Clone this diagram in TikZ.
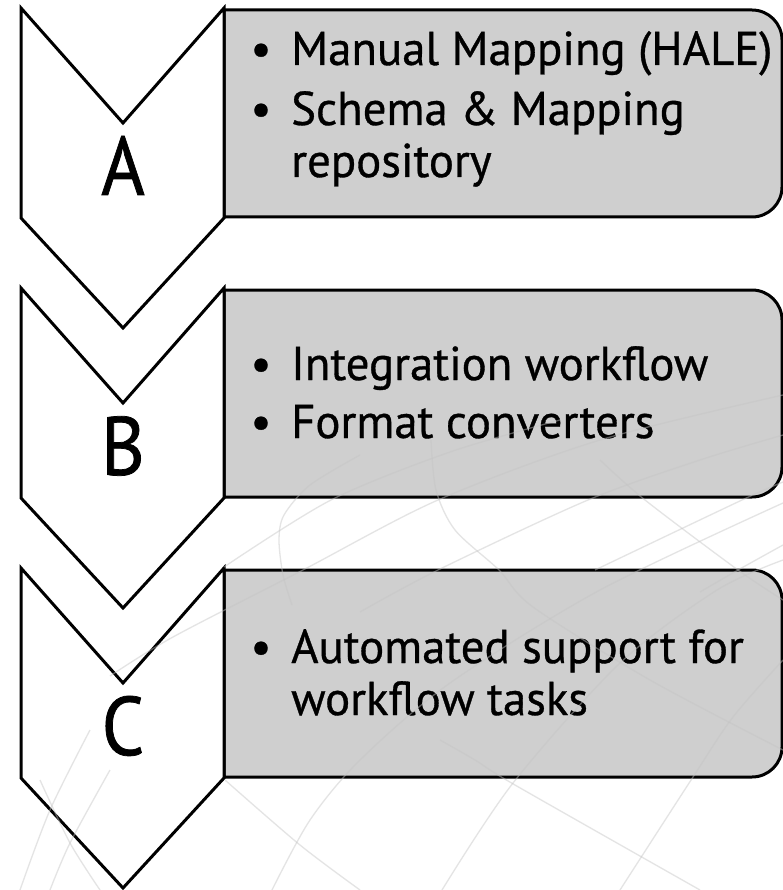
\documentclass[tikz,border=0pt]{standalone}
\usepackage{fontspec}
\setmainfont{PT Sans}[FakeBold=0.7,FakeStretch=0.985]
\newfontfamily\letterfont{PT Sans}[FakeStretch=0.9,FakeBold=0.9]
\definecolor{boxgray}{RGB}{207,207,207}
\definecolor{gridgray}{RGB}{196,196,196}
\begin{document}
\begin{tikzpicture}[x=1pt,y=-1pt,
  chev/.style={draw=black,line width=3pt,fill=white,line join=miter},
  bluebox/.style={draw=black,line width=3pt,fill=boxgray,line join=miter},
  letter/.style={font=\letterfont\fontsize{83}{83}\selectfont,inner sep=0pt,anchor=base},
  item/.style={font=\fontsize{47.5}{52}\selectfont,inner sep=0pt,anchor=base west},
  bul/.style={font=\fontsize{47.5}{52}\selectfont,inner sep=0pt,anchor=base},
  grid/.style={draw=gridgray,line width=1.3pt,opacity=0.45}]
\useasboundingbox (0,0) rectangle (783,890);
\fill[white] (0,0) rectangle (783,890);
% boxes and chevrons
\foreach \t in {8,288,568}{
  \path[bluebox] (224,\t+2) -- (752,\t+2) arc[start angle=-90,end angle=0,radius=30]
     -- (782,\t+179) arc[start angle=0,end angle=90,radius=30] -- (224,\t+209) -- cycle;
  \path[chev] (21,\t) -- (123,\t+115) -- (224,\t) -- (224,\t+210) -- (123,\t+320) -- (21,\t+210) -- cycle;
}
% letters
\node[letter] (la) at (123,195) {A};
\node[letter] (lb) at (123,475) {B};
\node[letter] (lc) at (123,755) {C};
% box A
\node[bul] (ba1) at (261,65) {•};
\node[item] (ta1) at (291,65) {Manual Mapping (HALE)};
\node[bul] (ba2) at (261,125) {•};
\node[item] (ta2) at (291,125) {Schema \& Mapping};
\node[item] (ta3) at (291,177) {repository};
% box B
\node[bul] (bb1) at (261,380) {•};
\node[item] (tb1) at (291,380) {Integration workflow};
\node[bul] (bb2) at (261,438) {•};
\node[item] (tb2) at (291,438) {Format converters};
% box C
\node[bul] (bc1) at (261,663) {•};
\node[item] (tc1) at (291,663) {Automated support for};
\node[item] (tc2) at (291,715) {workflow tasks};
% background globe lines
\begin{scope}
\clip (0,0) rectangle (783,890);
\draw[grid] plot[smooth] coordinates {(224,567) (331,500) (450,452) (560,420)};
\draw[grid] plot[smooth] coordinates {(110,676) (173,637) (303,570) (438,500) (600,440) (783,395)};
\draw[grid] plot[smooth] coordinates {(360,612) (438,570) (588,500) (700,460) (783,435)};
\draw[grid] plot[smooth] coordinates {(595,570) (742,500) (783,482)};
\draw[grid] plot[smooth] coordinates {(700,592) (738,570) (783,545)};
\draw[grid] plot[smooth] coordinates {(272,890) (310,820) (360,760) (450,683) (600,590) (783,503)};
\draw[grid] plot[smooth] coordinates {(442,890) (513,783) (620,663) (717,590) (783,560)};
\draw[grid] plot[smooth] coordinates {(620,890) (693,777) (733,717) (783,660)};
\draw[grid] plot[smooth] coordinates {(20,890) (50,810) (90,730)};
\draw[grid] plot[smooth] coordinates {(50,890) (70,843) (110,770)};
\draw[grid] plot[smooth] coordinates {(360,455) (310,485) (284,515) (279,540) (283,575) (292,605)};
\draw[grid] plot[smooth] coordinates {(431,440) (436,490) (455,530) (499,570) (533,607) (650,680) (783,750)};
\draw[grid] plot[smooth] coordinates {(600,460) (645,500) (738,570) (783,600)};
\draw[grid] plot[smooth] coordinates {(225,780) (300,845) (360,890)};
\draw[grid] plot[smooth] coordinates {(440,740) (475,760) (515,785) (700,890)};
\draw[grid] plot[smooth] coordinates {(40,780) (70,843) (100,890)};
\end{scope}
\end{tikzpicture}
\end{document}
